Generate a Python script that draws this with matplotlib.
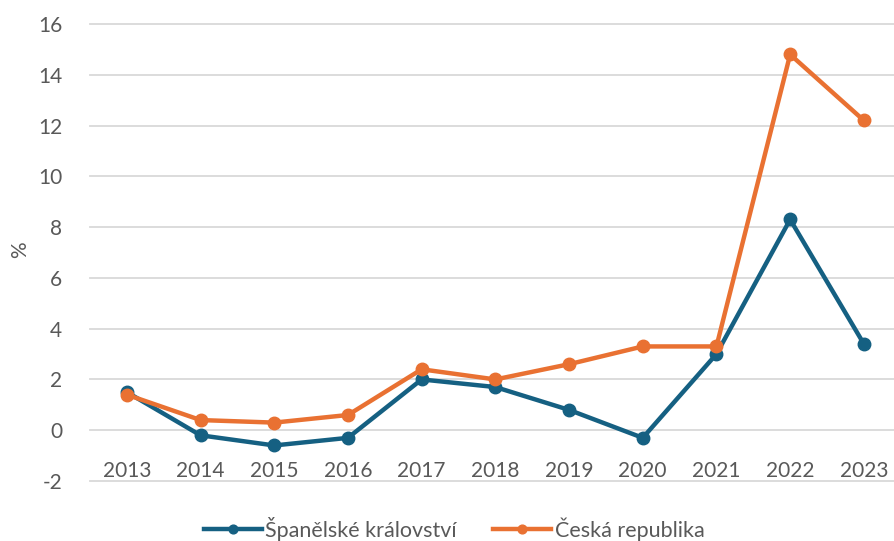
import matplotlib.pyplot as plt

years = ["2013", "2014", "2015", "2016", "2017", "2018", "2019", "2020", "2021", "2022", "2023"]
spain = [1.5, -0.2, -0.6, -0.3, 2.0, 1.7, 0.8, -0.3, 3.0, 8.3, 3.4]
czech = [1.4, 0.4, 0.3, 0.6, 2.4, 2.0, 2.6, 3.3, 3.3, 14.8, 12.2]
names = ["Španělské království", "Česká republika"]
yticks = list(range(-2, 17, 2))

plt.rcParams['font.family'] = ['Lato', 'DejaVu Sans']
plt.rcParams['axes.unicode_minus'] = False
W, H = 895, 541
fig = plt.figure(figsize=(W / 100, H / 100), dpi=100)

# axes box in pixels: x 90..895, y 24 (16) .. 481 (-2)
left, right, top, bottom = 90, 895, 24, 481
ax = fig.add_axes([left / W, 1 - bottom / H, (right - left) / W, (bottom - top) / H])
step = 73.7
ax.set_xlim(-0.5, -0.5 + (right - left) / step)
ax.set_ylim(-2, 16)

gray = "#595959"
x = list(range(len(years)))
ax.plot(x, spain, color="#156082", lw=3.2, marker="o", ms=9, label=names[0], zorder=3, clip_on=False)
ax.plot(x, czech, color="#E97132", lw=3.2, marker="o", ms=9, label=names[1], zorder=3, clip_on=False)

for v in yticks:
    ax.axhline(v, color="#D9D9D9", lw=1.3, zorder=1, clip_on=False)

for s in ax.spines.values():
    s.set_visible(False)
ax.spines['bottom'].set_position(('data', 0))
ax.set_xticks(x)
ax.set_xticklabels(years)
ax.set_yticks(yticks)
ax.tick_params(axis='x', length=0, pad=22, labelsize=15, labelcolor=gray)
ax.tick_params(axis='y', length=0, pad=20, labelsize=15, labelcolor=gray)
fig.text(20 / W, 1 - 250 / H, "%", fontsize=15, color=gray, rotation=90, ha="center", va="center")

fig.legend(loc="center", bbox_to_anchor=(454 / W, 1 - 529 / H), ncol=2, frameon=False,
           fontsize=15.5, labelcolor=gray, handlelength=2.7, handletextpad=0.15,
           columnspacing=1.7, markerscale=0.7)

fig.savefig("out.png", dpi=100)
